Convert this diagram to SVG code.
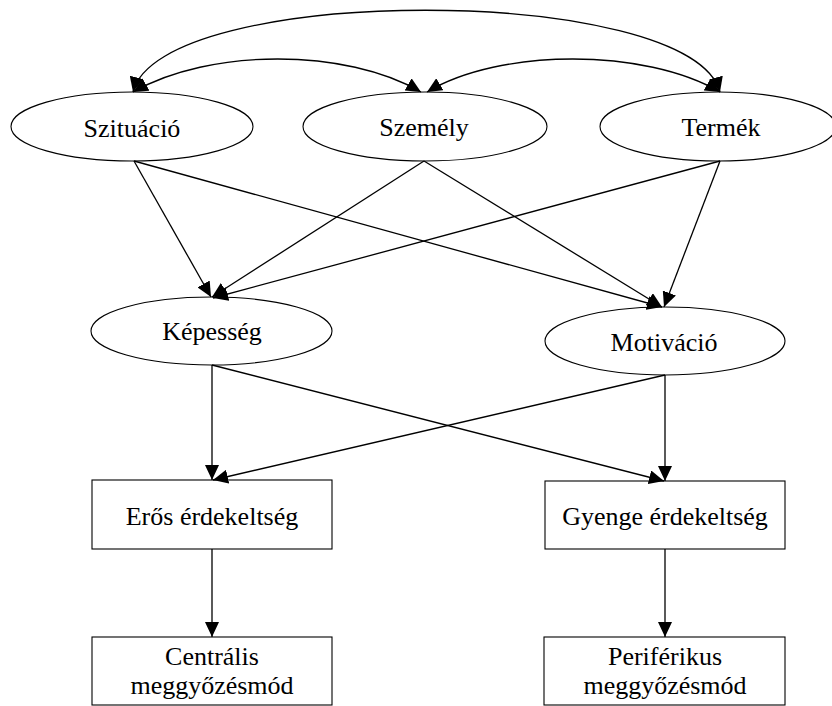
<svg xmlns="http://www.w3.org/2000/svg" width="832" height="706" viewBox="0 0 832 706">
<defs>
<marker id="ah" markerUnits="userSpaceOnUse" markerWidth="16" markerHeight="14" refX="15" refY="7" orient="auto-start-reverse" viewBox="0 0 16 14">
<path d="M0,0 L15,7 L0,14 z" fill="#000"/>
</marker>
<style>
.n ellipse, .n rect { fill: #fff; stroke: #000; stroke-width: 1.1; }
.n text { font-family: "Liberation Serif", "Times New Roman", serif; font-size: 26px; fill: #000; text-anchor: middle; }
.c path, .c line { fill: none; stroke: #000; stroke-width: 1.3; }
.c .s { marker-end: url(#ah); }
.c .b { marker-start: url(#ah); marker-end: url(#ah); }
</style>
</defs>
<rect width="832" height="706" fill="#fff"/>
<g id="nodes" class="n">
<g id="szituacio"><ellipse cx="132" cy="126.5" rx="121" ry="34.5"/><text x="132" y="137">Szituáció</text></g>
<g id="szemely"><ellipse cx="425" cy="126.5" rx="122" ry="34.5"/><text x="424" y="136">Személy</text></g>
<g id="termek"><ellipse cx="718" cy="126.5" rx="118" ry="34.5"/><text x="721" y="136">Termék</text></g>
<g id="kepesseg"><ellipse cx="211.5" cy="331" rx="120.5" ry="34"/><text x="212" y="340">Képesség</text></g>
<g id="motivacio"><ellipse cx="665" cy="341" rx="120" ry="34"/><text x="664" y="351">Motiváció</text></g>
<g id="eros"><rect x="92" y="480" width="240" height="69"/><text x="212" y="525">Erős érdekeltség</text></g>
<g id="gyenge"><rect x="545" y="481" width="240" height="68"/><text x="665" y="525">Gyenge érdekeltség</text></g>
<g id="centralis"><rect x="92" y="637" width="240" height="68"/><text x="212" y="665">Centrális</text><text x="212" y="694">meggyőzésmód</text></g>
<g id="periferikus"><rect x="544" y="637" width="241" height="68"/><text x="665" y="665">Periférikus</text><text x="665" y="694">meggyőzésmód</text></g>
</g>
<g id="connectors" class="c">
<path class="b" d="M133,92 C160,-17 690,-17 720,92"/>
<path class="b" d="M133,92 C210,48 346,48 421,92"/>
<path class="b" d="M427,92 C500,48 645,48 720,92"/>
<line class="s" x1="134" y1="161" x2="211" y2="297"/>
<line class="s" x1="134" y1="161" x2="662" y2="307"/>
<line class="s" x1="424" y1="161" x2="212" y2="297"/>
<line class="s" x1="424" y1="161" x2="662" y2="307"/>
<line class="s" x1="720" y1="161" x2="213" y2="298"/>
<line class="s" x1="720" y1="161" x2="664" y2="307"/>
<line class="s" x1="212" y1="365" x2="212" y2="480"/>
<line class="s" x1="212" y1="365" x2="664" y2="481"/>
<line class="s" x1="665" y1="375" x2="213" y2="480"/>
<line class="s" x1="665" y1="375" x2="665" y2="481"/>
<line class="s" x1="212" y1="549" x2="212" y2="637"/>
<line class="s" x1="665" y1="549" x2="665" y2="637"/>
</g>
</svg>
